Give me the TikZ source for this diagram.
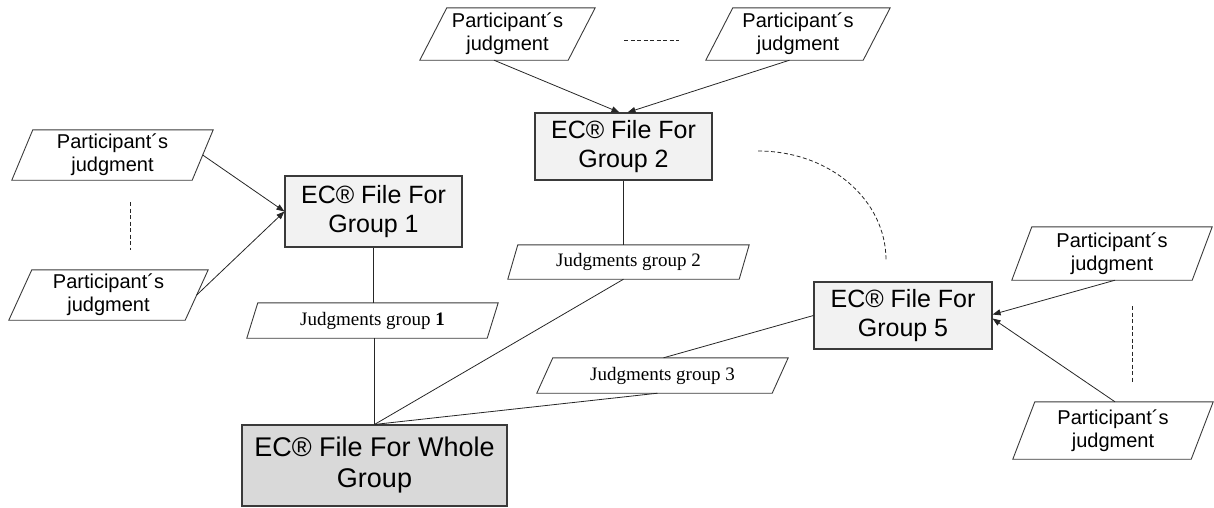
\documentclass[tikz,border=0pt]{standalone}
\usepackage{fontspec}
\setmainfont{Liberation Sans}
\newfontfamily\timesfont{Liberation Serif}
\usetikzlibrary{calc,arrows.meta}
\definecolor{boxfill}{HTML}{F2F2F2}
\definecolor{wholefill}{HTML}{D9D9D9}
\definecolor{edge}{HTML}{3A3A3A}
\tikzset{
  gbox/.style={draw=edge, line width=1.1pt, fill=boxfill, inner sep=0pt, align=center,
    font=\fontsize{25}{29}\selectfont},
  wbox/.style={draw=edge, line width=1.1pt, fill=wholefill, inner sep=0pt, align=center,
    font=\fontsize{27}{31}\selectfont},
  parabox/.style={draw=edge, line width=0.9pt},
  ptext/.style={align=center, font=\fontsize{20}{23}\selectfont},
  jtext/.style={align=center, font=\timesfont\fontsize{19}{22}\selectfont},
  conn/.style={draw=black!85, line width=0.8pt},
  arr/.style={conn, -{Triangle[length=8pt,width=6pt]}},
  dsh/.style={draw=black!85, line width=0.8pt, dash pattern=on 4pt off 2.5pt},
}
% #1 name, #2 cx, #3 cy, #4 width, #5 height, #6 slant, #7 style, #8 text
\newcommand{\mypara}[8]{%
  \node[minimum width=#4pt, minimum height=#5pt, inner sep=0pt, #7] (#1) at (#2,#3) {#8};
  \draw[parabox] ([xshift=#6pt]#1.north west) -- (#1.north east)
     -- ([xshift=-#6pt]#1.south east) -- (#1.south west) -- cycle;
  \coordinate (#1-r) at ($(#1.east)+(-#6/2,0)$);
  \coordinate (#1-l) at ($(#1.west)+(#6/2,0)$);
  \coordinate (#1-b) at ($(#1.south)+(-#6/2,0)$);
  \coordinate (#1-t) at ($(#1.north)+(#6/2,0)$);
}
\begin{document}
\begin{tikzpicture}[x=1pt,y=-1pt]
\useasboundingbox (0,0) rectangle (1214,507);

% boxes
\node[gbox, minimum width=177pt, minimum height=71pt] (G1) at (373.5,211.5) {EC® File For\\Group 1};
\node[gbox, minimum width=177pt, minimum height=67pt] (G2) at (623.5,146.5) {EC® File For\\Group 2};
\node[gbox, minimum width=178pt, minimum height=67pt] (G5) at (903,315.5) {EC® File For\\Group 5};
\node[wbox, minimum width=265pt, minimum height=81pt] (W) at (374.5,465.5) {EC® File For Whole\\Group};

% participant parallelograms
\mypara{PL1}{112.5}{155}{201}{50}{21}{ptext}{Participant´s\\judgment}
\mypara{PL2}{108.5}{295}{199}{50}{23}{ptext}{Participant´s\\judgment}
\mypara{PT1}{507.5}{34}{175}{52}{27}{ptext}{Participant´s\\judgment}
\mypara{PT2}{798}{34}{184}{52}{27}{ptext}{Participant´s\\judgment}
\mypara{PR1}{1112}{253.5}{200}{53}{20}{ptext}{Participant´s\\judgment}
\mypara{PR2}{1113}{430.5}{200}{57}{22}{ptext}{Participant´s\\judgment}

% judgment parallelograms
\mypara{J1}{372.5}{320.5}{251}{35}{11}{jtext}{Judgments group \textbf{1}}
\mypara{J2}{628.5}{262}{241}{34}{10}{jtext}{Judgments group 2}
\mypara{J3}{662.5}{375.5}{251}{35}{16}{jtext}{Judgments group 3}

% arrows into group files
\draw[arr] (PL1-r) -- (G1.west);
\draw[arr] (PL2-r) -- (G1.west);
\draw[arr] (PT1-b) -- ([xshift=-4pt]G2.north);
\draw[arr] ($(PT2-b)+(5,0)$) -- ([xshift=4pt]G2.north);
\draw[arr] ($(PR1.south)+(3,0)$) -- ([yshift=1pt]G5.east);
\draw[arr] ($(PR2.north)+(2,0)$) -- ([yshift=-3pt]G5.east);

% connectors to whole group
\draw[conn] (G1.south) -- (G1.south |- J1.north);
\draw[conn] (W.north |- J1.south) -- (W.north);
\draw[conn] (G2.south) -- (G2.south |- J2.north);
\draw[conn] (J2-b) -- (W.north);
\draw[conn] ($(J3.north)+(1,0)$) -- (G5.west);
\draw[conn] ($(J3.south)+(-5,0)$) -- (W.north);

% dashed ellipsis marks
\coordinate (dl1) at (130,202); \coordinate (dl2) at (130,250);
\coordinate (dt1) at (624,40);  \coordinate (dt2) at (679,40);
\coordinate (dr1) at (1132,306); \coordinate (dr2) at (1132,383);
\coordinate (da1) at (758,151); \coordinate (da2) at (886,260);
\draw[dsh] (dl1) -- (dl2);
\draw[dsh] (dt1) -- (dt2);
\draw[dsh] (dr1) -- (dr2);
\draw[dsh] (da1) .. controls (830,151) and (886,200) .. (da2);
\end{tikzpicture}
\end{document}
